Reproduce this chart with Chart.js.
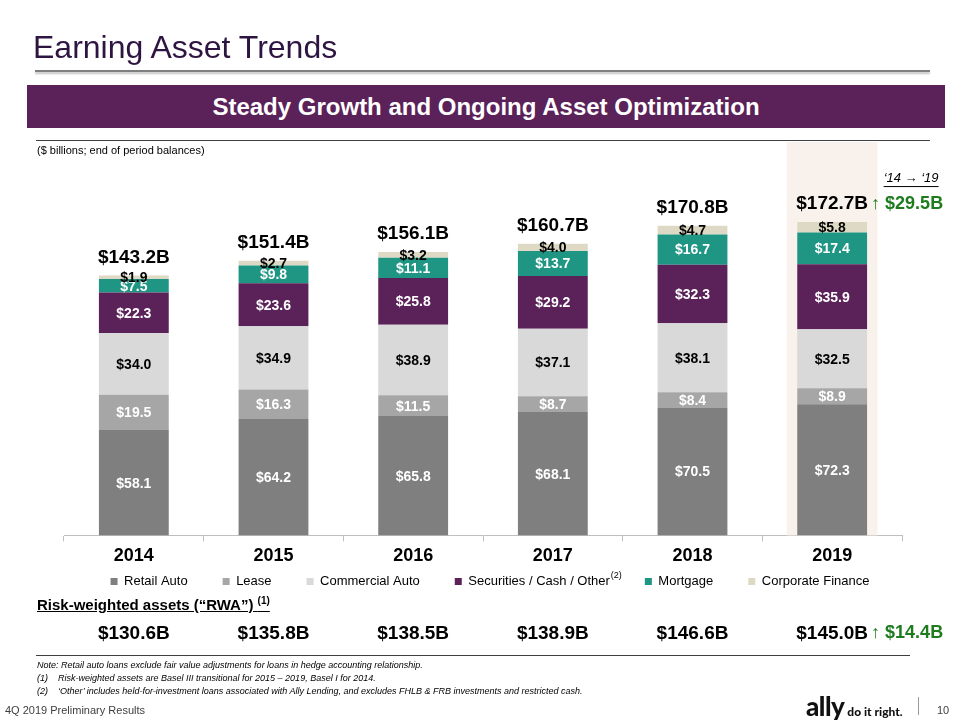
<!DOCTYPE html>
<html>
<head>
<meta charset="utf-8">
<script src="https://cdn.jsdelivr.net/npm/chart.js@4.4.1/dist/chart.umd.min.js"></script>
<style>
  body { margin: 0; width: 960px; height: 720px; position: relative; overflow: hidden; background: #fff;
         font-family: "Liberation Sans", Arial, sans-serif; }
  #chart { position: absolute; left: 0; top: 0; }
  .abs { position: absolute; white-space: nowrap; }
  #title { left: 33px; top: 29px; font-size: 32px; color: #2e1541; }
  #titleRule { left: 35px; top: 70px; width: 895px; height: 2px; background: #7f7f7f; box-shadow: 0 2px 2px rgba(0,0,0,0.25); }
  #banner { left: 27px; top: 85px; width: 918px; height: 43px; background: #5b2159; color: #fff;
            font-weight: bold; font-size: 24px; line-height: 43px; text-align: center; }
  #rule2 { left: 36px; top: 140px; width: 894px; height: 1px; border-top: 1px solid #3f3f3f; }
  #units { left: 37px; top: 144px; font-size: 11px; color: #000; }
  #rwaHead { left: 37px; top: 595px; font-size: 15px; font-weight: bold; text-decoration: underline; }
  #rwaHead sup { font-size: 10px; }
  #rule3 { left: 36px; top: 655px; width: 874px; height: 1px; border-top: 1px solid #3f3f3f; }
  .note { left: 37px; font-size: 9px; font-style: italic; color: #000; }
  .note span { display: inline-block; width: 21px; }
  #footer { left: 5px; top: 704px; font-size: 11px; color: #404040; }
  #logo { left: 806px; top: 690px; font-family: Lato, "Liberation Sans", sans-serif; font-weight: 900; color: #111; }
  #logo .big { font-size: 26px; letter-spacing: -0.5px; }
  #logo .small { font-size: 12px; margin-left: 3px; }
  #bar { left: 918px; top: 697px; width: 1px; height: 18px; background: #999; }
  #page { left: 937px; top: 704px; font-size: 11px; color: #404040; }
</style>
</head>
<body>
<canvas id="chart" width="960" height="720"></canvas>
<div class="abs" id="title">Earning Asset Trends</div>
<div class="abs" id="titleRule"></div>
<div class="abs" id="banner">Steady Growth and Ongoing Asset Optimization</div>
<div class="abs" id="rule2"></div>
<div class="abs" id="units">($ billions; end of period balances)</div>
<div class="abs" id="rwaHead">Risk-weighted assets (“RWA”) <sup>(1)</sup></div>
<div class="abs" id="rule3"></div>
<div class="abs note" style="top:660px">Note: Retail auto loans exclude fair value adjustments for loans in hedge accounting relationship.</div>
<div class="abs note" style="top:673px"><span>(1)</span>Risk-weighted assets are Basel III transitional for 2015 – 2019, Basel I for 2014.</div>
<div class="abs note" style="top:686px"><span>(2)</span>‘Other’ includes held-for-investment loans associated with Ally Lending, and excludes FHLB &amp; FRB investments and restricted cash.</div>
<div class="abs" id="footer">4Q 2019 Preliminary Results</div>
<div class="abs" id="logo"><span class="big">ally</span><span class="small">do it right.</span></div>
<div class="abs" id="bar"></div>
<div class="abs" id="page">10</div>

<script>
// $ billions, end of period balances
var years = ["2014", "2015", "2016", "2017", "2018", "2019"];
var retailAuto = [58.1, 64.2, 65.8, 68.1, 70.5, 72.3];
var lease = [19.5, 16.3, 11.5, 8.7, 8.4, 8.9];
var commercialAuto = [34.0, 34.9, 38.9, 37.1, 38.1, 32.5];
var securities = [22.3, 23.6, 25.8, 29.2, 32.3, 35.9];
var mortgage = [7.5, 9.8, 11.1, 13.7, 16.7, 17.4];
var corporateFinance = [1.9, 2.7, 3.2, 4.0, 4.7, 5.8];
var totals = [143.2, 151.4, 156.1, 160.7, 170.8, 172.7];
var rwa = [130.6, 135.8, 138.5, 138.9, 146.6, 145.0];

var FONT = '"Liberation Sans", Arial, sans-serif';
var GREEN = "#1e7b1e";

function money(v) { return "$" + v.toFixed(1); }

var labelsPlugin = {
  id: "labelsPlugin",
  afterLayout: function (chart) {
    // pull the legend up under the year labels
    chart.legend.top -= 31;
    chart.legend.bottom -= 31;
    chart.legend.left += 7;
    chart.legend.right += 7;
  },
  beforeDatasetsDraw: function (chart) {
    var ctx = chart.ctx, x = chart.scales.x, y = chart.scales.y;
    var cx = x.getPixelForValue(years.length - 1);
    var w = x.width / years.length * 0.65;
    ctx.save();
    ctx.fillStyle = "#f9f2ec";
    ctx.fillRect(cx - w / 2, 142, w, y.getPixelForValue(0) - 142);
    ctx.restore();
  },
  afterDatasetsDraw: function (chart) {
    var ctx = chart.ctx, x = chart.scales.x;
    ctx.save();
    ctx.textAlign = "center";
    ctx.textBaseline = "middle";
    // segment values
    chart.data.datasets.forEach(function (ds, i) {
      var meta = chart.getDatasetMeta(i);
      ctx.font = "bold 14px " + FONT;
      ctx.fillStyle = ds.labelColor;
      meta.data.forEach(function (bar, j) {
        ctx.fillText(money(ds.data[j]), bar.x, (bar.y + bar.base) / 2 + 1);
      });
    });
    // totals above bars
    var topMeta = chart.getDatasetMeta(chart.data.datasets.length - 1);
    ctx.font = "bold 19px " + FONT;
    ctx.fillStyle = "#000";
    topMeta.data.forEach(function (bar, j) {
      ctx.fillText(money(totals[j]) + "B", bar.x, bar.y - 18);
    });
    // growth call-out next to 2019 total
    var last = topMeta.data[years.length - 1];
    var tw = ctx.measureText(money(totals[years.length - 1]) + "B").width;
    var gx = last.x + tw / 2 + 3, gy = last.y - 18;
    ctx.textAlign = "left";
    ctx.font = "18px " + FONT;
    ctx.fillStyle = GREEN;
    ctx.fillText("↑", gx, gy);
    var aw = ctx.measureText("↑ ").width;
    ctx.font = "bold 18px " + FONT;
    var growth = money(totals[years.length - 1] - totals[0]) + "B";
    ctx.fillText(growth, gx + aw, gy);
    var gw = aw + ctx.measureText(growth).width;
    ctx.font = "italic 13px " + FONT;
    ctx.fillStyle = "#000";
    ctx.textAlign = "center";
    var per = "‘14 → ‘19";
    var pw = ctx.measureText(per).width;
    ctx.fillText(per, gx + gw / 2 + 4, gy - 26);
    ctx.fillRect(gx + gw / 2 + 4 - pw / 2, gy - 18, pw, 1);

    // RWA row
    ctx.font = "bold 19px " + FONT;
    ctx.fillStyle = "#000";
    var ry = 634;
    years.forEach(function (yr, j) {
      ctx.fillText(money(rwa[j]) + "B", x.getPixelForValue(j), ry);
    });
    var rx = x.getPixelForValue(years.length - 1) + ctx.measureText(money(rwa[years.length - 1]) + "B").width / 2 + 3;
    ctx.textAlign = "left";
    ctx.font = "18px " + FONT;
    ctx.fillStyle = GREEN;
    ctx.fillText("↑", rx, ry - 1);
    var aw2 = ctx.measureText("↑ ").width;
    ctx.font = "bold 18px " + FONT;
    ctx.fillText(money(rwa[years.length - 1] - rwa[0]) + "B", rx + aw2, ry - 1);
    ctx.restore();
  },
  afterDraw: function (chart) {
    var lg = chart.legend, ctx = chart.ctx;
    var hb = lg.legendHitBoxes[3];
    if (!hb) return;
    ctx.save();
    ctx.font = "9px " + FONT;
    ctx.fillStyle = "#000";
    ctx.textAlign = "left";
    ctx.textBaseline = "middle";
    ctx.fillText("(2)", hb.left + hb.width + 1, lg.top + lg.options.labels.padding + 1);
    ctx.restore();
  }
};

var chart = new Chart(document.getElementById("chart").getContext("2d"), {
  type: "bar",
  data: {
    labels: years,
    datasets: [
      { label: "Retail Auto", data: retailAuto, backgroundColor: "#7f7f7f", labelColor: "#fff" },
      { label: "Lease", data: lease, backgroundColor: "#a6a6a6", labelColor: "#fff" },
      { label: "Commercial Auto", data: commercialAuto, backgroundColor: "#d9d9d9", labelColor: "#000" },
      { label: "Securities / Cash / Other", data: securities, backgroundColor: "#5b2159", labelColor: "#fff" },
      { label: "Mortgage", data: mortgage, backgroundColor: "#1f9583", labelColor: "#fff" },
      { label: "Corporate Finance", data: corporateFinance, backgroundColor: "#ddd9c4", labelColor: "#000" }
    ]
  },
  options: {
    responsive: false,
    animation: false,
    categoryPercentage: 1.0,
    barPercentage: 0.5,
    layout: { padding: { top: 209, left: 64, right: 58, bottom: 91 } },
    scales: {
      x: {
        stacked: true,
        grid: { offset: true, drawOnChartArea: false, drawTicks: true, tickLength: 6, color: "#bfbfbf" },
        border: { color: "#bfbfbf" },
        ticks: { color: "#000", font: { family: FONT, size: 18, weight: "bold" }, padding: 4 }
      },
      y: { stacked: true, display: false, min: 0, max: 180 }
    },
    plugins: {
      tooltip: { enabled: false },
      legend: {
        position: "bottom",
        labels: { boxWidth: 7, boxHeight: 7, padding: 35, color: "#000", font: { family: FONT, size: 13 } }
      }
    }
  },
  plugins: [labelsPlugin]
});
</script>
</body>
</html>
